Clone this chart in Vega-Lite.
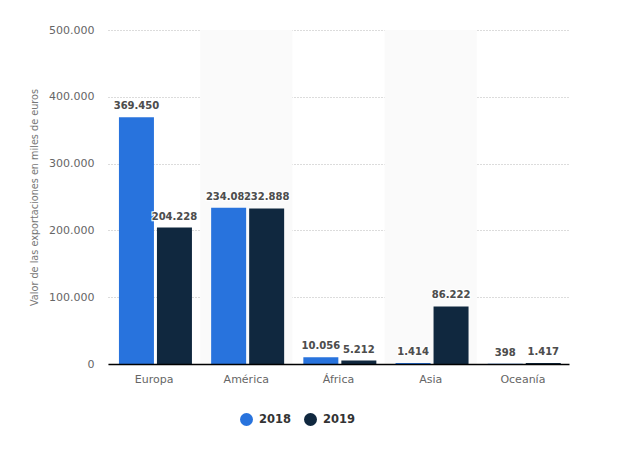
{
"$schema":"https://vega.github.io/schema/vega-lite/v6.json",
"width":461,"height":334,
"autosize":{"type":"none"},
"padding":{"left":108,"top":30,"right":60,"bottom":89},
"background":"white",
"config":{"view":{"stroke":null},"locale":{"number":{"decimal":",","thousands":".","grouping":[3],"currency":["","€"]}}},
"datasets":{
"rows":[
{"Continente":"Europa","Año":"2018","Valor":369450},
{"Continente":"Europa","Año":"2019","Valor":204228},
{"Continente":"América","Año":"2018","Valor":234085},
{"Continente":"América","Año":"2019","Valor":232888},
{"Continente":"África","Año":"2018","Valor":10056},
{"Continente":"África","Año":"2019","Valor":5212},
{"Continente":"Asia","Año":"2018","Valor":1414},
{"Continente":"Asia","Año":"2019","Valor":86222},
{"Continente":"Oceanía","Año":"2018","Valor":398},
{"Continente":"Oceanía","Año":"2019","Valor":1417}
],
"bands":[{"Continente":"América","Tope":500000},{"Continente":"Asia","Tope":500000}]
},
"encoding":{
"x":{"field":"Continente","type":"nominal","sort":null,
"scale":{"domain":["Europa","América","África","Asia","Oceanía"],"paddingInner":0,"paddingOuter":0},
"axis":{"title":null,"labelAngle":0,"labelColor":"#666666","labelFont":"DejaVu Sans","labelFontSize":11,"labelPadding":9,"ticks":false,"domain":true,"domainColor":"#000000","domainWidth":1.5,"grid":false,"zindex":1}}
},
"layer":[
{"data":{"name":"bands"},"mark":{"type":"bar","color":"#fafafa"},
"encoding":{"y":{"field":"Tope","type":"quantitative"}}},
{"data":{"name":"rows"},"mark":{"type":"bar"},
"encoding":{
"xOffset":{"field":"Año","type":"nominal","scale":{"domain":["2018","2019"],"paddingInner":0.079,"paddingOuter":0.2526,"align":0.57}},
"y":{"field":"Valor","type":"quantitative","scale":{"domain":[0,500000]},
"axis":{"title":"Valor de las exportaciones en miles de euros","titleColor":"#777777","titleFont":"DejaVu Sans","titleFontSize":9.7,"titleFontWeight":"normal","titlePadding":9,"labelColor":"#666666","labelFont":"DejaVu Sans","labelFontSize":11,"labelPadding":14,"values":[0,100000,200000,300000,400000,500000],"format":",d","ticks":false,"domain":false,"grid":true,"gridColor":"#b8b8b8","gridDash":[1,2],"gridWidth":1}},
"color":{"field":"Año","type":"nominal","scale":{"domain":["2018","2019"],"range":["#2873dd","#10283f"]},
"legend":{"title":null,"orient":"none","legendX":132,"legendY":383,"direction":"horizontal","columns":2,"columnPadding":12,"padding":0,"symbolType":"circle","symbolSize":169,"symbolStrokeWidth":0,"labelFont":"DejaVu Sans","labelFontWeight":"bold","labelFontSize":11.5,"labelColor":"#333333","labelOffset":6}}
}},
{"data":{"name":"rows"},"transform":[{"filter":"datum['Año']==='2018'"}],"mark":{"type":"text","baseline":"bottom","dy":-6,"font":"DejaVu Sans","fontWeight":"bold","fontSize":10,"stroke":"white","strokeWidth":2.5,"strokeOpacity":0.9},
"encoding":{"xOffset":{"field":"Año","type":"nominal"},"y":{"field":"Valor","type":"quantitative"},"text":{"field":"Valor","type":"quantitative","format":",d"}}},
{"data":{"name":"rows"},"transform":[{"filter":"datum['Año']==='2018'"}],"mark":{"type":"text","baseline":"bottom","dy":-6,"font":"DejaVu Sans","fontWeight":"bold","fontSize":10,"color":"#4d4d4d"},
"encoding":{"xOffset":{"field":"Año","type":"nominal"},"y":{"field":"Valor","type":"quantitative"},"text":{"field":"Valor","type":"quantitative","format":",d"}}},
{"data":{"name":"rows"},"transform":[{"filter":"datum['Año']==='2019'"}],"mark":{"type":"text","baseline":"bottom","dy":-6,"font":"DejaVu Sans","fontWeight":"bold","fontSize":10,"stroke":"white","strokeWidth":2.5,"strokeOpacity":0.9},
"encoding":{"xOffset":{"field":"Año","type":"nominal"},"y":{"field":"Valor","type":"quantitative"},"text":{"field":"Valor","type":"quantitative","format":",d"}}},
{"data":{"name":"rows"},"transform":[{"filter":"datum['Año']==='2019'"}],"mark":{"type":"text","baseline":"bottom","dy":-6,"font":"DejaVu Sans","fontWeight":"bold","fontSize":10,"color":"#4d4d4d"},
"encoding":{"xOffset":{"field":"Año","type":"nominal"},"y":{"field":"Valor","type":"quantitative"},"text":{"field":"Valor","type":"quantitative","format":",d"}}}
]
}
